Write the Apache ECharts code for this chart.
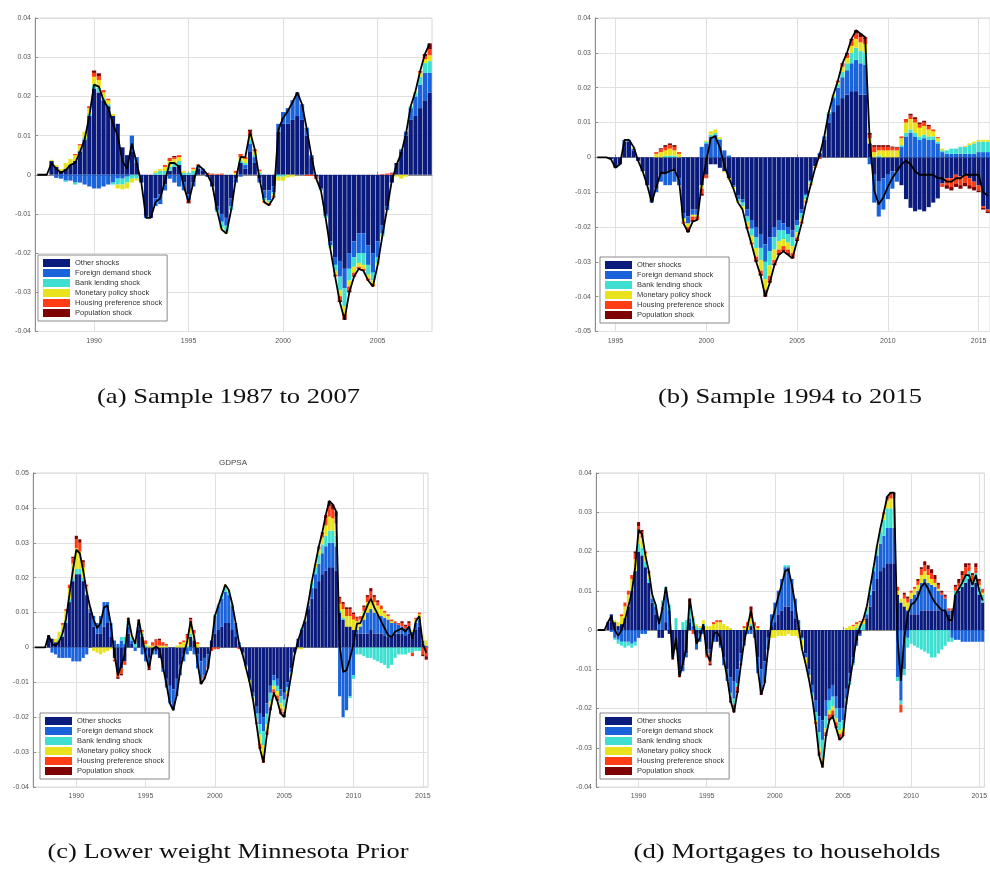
<!DOCTYPE html>
<html>
<head>
<meta charset="utf-8">
<script src="https://cdn.jsdelivr.net/npm/echarts@6/dist/echarts.min.js"></script>
<style>
  html, body { margin: 0; padding: 0; background: #ffffff; }
  #chart { width: 990px; height: 871px; }
</style>
</head>
<body>
<div id="chart"></div>
<script>
// Historical decomposition of the forecast error, quarterly contributions
// of each structural shock (values in thousandths, i.e. 12 = 0.012).

const SHOCK_NAMES = ['Other shocks', 'Foreign demand shock', 'Bank lending shock',
  'Monetary policy shock', 'Housing preference shock', 'Population shock'];
const SHOCK_COLORS = ['#0b1b7d', '#1a63db', '#3fe0d2', '#e8e31c', '#ff3c14', '#7e0202'];
const X_TICK_YEARS = [1990, 1995, 2000, 2005, 2010, 2015];

// ---- (a) sample 1987Q1 - 2007Q4 ----
const aOther = [0,0,0,3.5,2,1,1.5,2.5,3.5,6, 9,15,22,21,19,17.5,15,13,7,5, 6,3,-2,-10.5,-11,-6,-5,-2.5,1,2, 2.5,-2,-5,-2,1.5,1,-0.5,-3,-8,-10, -11,-6,-1,3,1.5,6,3,-1,-4,-4, -3,11,13,13,14,15,14,10,4.5,-0.5, -3.5,-10,-17,-21,-22,-24,-20,-17,-15,-15, -18,-20,-17,-13,-8,-2,3,6,10,14, 15,17,19,21];
const aForeign = [0,0,0,0,-0.8,-1,-1.5,-1.5,-2,-2, -2.5,-3,-3.5,-3.5,-3,-2.5,-2,-1,-1,-0.5, 4,1.5,0,-0.5,0,-2,-2.5,-1.5,-1,-2, -3,-2,-1.5,-1,0.5,0.5,0,0,-1,-2, -2,-2,-1,-0.5,1,2,1.5,-1,-2,-2.5, -1.5,2,3,4,5,6,4,2,0.5,0, -0.3,-0.5,-1,-2,-4,-5,-4,-4,-5,-5, -5,-5,-4,-2,-1,0,0,0.5,1,3, 5,6,7,5];
const aBank = [0,0,0,0,0,0,-0.3,0,-0.5,0, 0.5,0.5,1,1.2,0.5,0.5,-0.5,-1.5,-1.5,-1.5, -1,-1,0,0,0,0.5,1,1,1,1, 1,0.5,0.5,1,0.3,0,0,0,-0.5,-1.5, -1.5,-1,0,0.5,0.5,1,0.5,0.5,-0.5,-0.5, -0.5,-0.5,-0.5,0,0,0,0,0,0,0, -0.2,-0.5,-0.5,-1.5,-3.5,-4.5,-3,-2.5,-2.5,-3, -2.5,-2,-1.5,-0.5,0,0,0,0,0,0.5, 1,2,2.5,3];
const aMonetary = [0,0,0,0.3,0.5,0.5,1.5,1.5,1.5,1.5, 1.5,1.5,2,2,1.5,1,0.5,-1,-1.2,-1.5, -1,-0.5,0,0,0,0.5,0.5,1,1.5,1, 1,0.5,0,0.5,0,0,0,0,0,-0.5, -0.5,0,0.5,1,1,1,1,0.5,-0.3,-0.3, -0.5,-1,-1,-0.7,-0.5,0,0,0,0,0, 0,0,-0.3,-1,-1.5,-2,-1.5,-1.5,-1,-1, -1,-1,-0.5,-0.3,0,0,-0.5,-1,-0.5,0, 0.3,1,1,1.5];
const aHousing = [0,0,0,0,0,0,0,0,0.3,0.3, 0,0.5,1,1,0.6,0.4,0,0,0,0, 0,0,0,0,0,0,0,0.5,0.8,0.5, 0.5,0,-0.5,0.3,0.3,0,0.3,0.3,0.2,0.3, 0,0,0.5,0.8,0.5,1,0.5,0.3,-0.3,-0.5, -0.3,0,0,0,0,0,0,-0.3,-0.3,-0.3, 0,0,0,-0.5,-1,-1,-1,-0.7,-0.5,-0.5, -0.5,-0.5,0,0.2,0.3,0.3,0,0,0,0, 0,0.5,0.8,1.5];
const aPopulation = [0,0,0,0,0,0,0,0,0,0, 0,0,0.6,0.7,0,0,0,0,0,0, 0,0,0,0,0,0,0,0,0,0.3, 0,0,-0.3,0,0,0,0.2,0,0,0, 0,0,0,0,0,0.5,0,0,0,0, 0,0,0,0,0,0,0,0,0,-0.2, 0,0,0,0,-0.5,-0.5,-0.5,-0.3,0,0, 0,0,0,0,0,0.2,0,0,0,0, 0,0,0.5,1.5];
const aObserved = [0,0,0,3,1.5,0.5,1.2,2.5,3,5.8, 9,15,23,22.5,19,17,13,10,3.5,1.5, 8,3,-2,-11,-11,-7,-6,-1.5,3,3, 2,-3,-7,-2,2.5,1.5,0,-2.5,-9,-14, -15,-9,-1,4.5,4.5,11,6.5,-1,-7,-7.8, -5.8,11.5,14.5,16.3,18.5,21,18,11.7,4.7,-1, -4,-11,-19,-26,-32.5,-37,-30,-26,-24,-24.5, -27,-28.5,-23,-15.6,-8.7,-1.5,2.5,5.5,10.5,17.5, 21.3,26.5,30.8,33.5];

// ---- (b) sample 1994Q1 - 2015Q3 ----
const bOther = [0,0,0,-0.5,-3,-2,4.5,4.5,2,-1, -4,-8,-12.5,-9,-5,-5,-4,-4,-6,-16, -17,-15,-15,-8,-5,-2,-2,-3,-4,-6, -8,-11,-12,-15,-18,-20,-22,-25,-23,-20, -18,-19,-20,-21,-18,-15,-10.5,-6.5,-2.5,1, 5,10,13,15,17,18,19,19,18,18, 4,-5,-7,-6,-5,-4,-4,-8,-12,-14.5, -15.5,-15,-15.5,-14.3,-13,-11.8,-7.5,-6,-6,-5, -5.5,-5,-6,-7,-8,-14,-15];
const bForeign = [0,0,0,0,0,0,0.5,0.5,0.5,0, 0,0,-0.5,-1,-2,-3,-4,-3,-2,-1.5, -2,-1.5,-1.5,3,4,6,6.5,5,2,0.5, -0.5,-1,-1,-2,-2.5,-3,-4,-5,-4,-3, -3,-2,-2,-2,-1.5,-1,-0.5,-0.3,0,0.3, 1,2.5,4,5,6,7,8,9,9,8.5, -2,-8,-10,-9,-7,-5,-3,3,6,7, 6,5,5.5,5,5,4,1.5,1,1,1, 1,1,1,1,1.5,1.5,1.5];
const bBank = [0,0,0,0,0,0,0,0,0,0, 0,0,0,0,0,0.5,0.5,0.5,0,0, 0,0,0,0,0.5,0.5,0.5,0.3,0,0, 0,-0.5,-1,-1.5,-2,-3,-3.5,-5,-4,-3.5, -3,-2.5,-2.5,-2.5,-2,-1.5,-1,-0.5,0,0, 0,0.5,0.5,1,1.5,2,3,3.5,3.5,3.5, 0,0,0.5,0,0,0,0,0.5,1,1, 1,1,1,1,1,0.5,0.5,1,1.5,1.5, 2,2,2.5,3,3,3,3];
const bMonetary = [0,0,0,0,0,0,0,0,0.5,0, 0,0,0,1,1.5,1.5,2,1.5,1,-1, -1,-0.5,-0.5,-1,0.3,1,1,0.5,-0.3,-0.5, -0.5,-0.5,-1,-1.5,-2,-2.5,-3,-3,-3,-3, -2.5,-2,-2,-2,-1.5,-1,-0.7,-0.5,-0.3,0, 0,0,0.5,0.5,1.5,1.5,2,2.5,2.5,2.5, 1.5,1.5,1.5,2,2,2,2,2,3,3, 3,2.5,2.5,2,1.5,1,0.5,0,0,0, 0,0.3,0.5,0.5,0.5,0.5,0.5];
const bHousing = [0,0,0,0,0,0,0,0,0,0, 0,0,0,0.5,0.8,1,1,1,0.5,-0.5, -1,-1,-1,-1.5,-1,0,0,0,0,0, 0,0,0,-0.5,-0.5,-1,-1,-1.5,-1.5,-1, -1,-1,-1,-1,-0.7,-0.5,-0.3,-0.2,-0.2,-0.5, 0,0,0,0.3,0.7,1,1.5,1.5,1.5,1.5, 1,1.5,1,1,1,0.8,0.8,0.5,1,1, 1,1,1,1,0.5,0.3,-1,-2,-2.5,-2.5, -2.5,-2.3,-2,-1.5,-1.5,-0.5,-0.5];
const bPopulation = [0,0,0,0,0,0,0,0,0,0, 0,0,0,0,0.3,0.5,0.5,0.5,0,0, -0.5,-0.5,0,-0.5,0,0,0,0,0,0, 0,0,0,0,0,-0.5,-0.5,-0.5,-0.5,-0.5, -0.5,-0.5,-0.5,-0.5,-0.3,0,0,0,0,0, 0,0,0,0.2,0.3,0.5,0.5,1,1,0.5, 0.5,0.5,0.5,0.5,0.5,0.3,0.2,0,0,0.5, 0.5,0.5,0.5,0.3,0,0,0,-1,-1,-1, -1,-1,-1,-1,-0.5,-0.5,-0.5];
const bObserved = [0,0,0,-0.5,-3,-2,5,5,3,-1, -4,-8,-13,-8.5,-4.4,-4.5,-4,-3.5,-6.5,-19, -21.5,-18.5,-18,-8,-1.2,5.5,6,2.8,-2.3,-6, -9,-13,-15,-20.5,-25,-30,-34,-40,-36,-31, -28,-27,-28,-29,-24,-19,-13,-8,-3,0.8, 6,13,18,22,27,30,34,36.5,35.5,34.5, 5,-9.5,-13.5,-11.5,-8.5,-5.9,-4,-2,-1,-2, -4,-5,-5,-5,-5,-6,-6,-7,-7,-6, -6,-5,-5,-5,-5,-10,-11];

// ---- (c) lower weight Minnesota prior, 1987Q1 - 2015Q2 ----
const cOther = [0,0,0,0,3.5,2.5,1.5,2,3,7, 13,19,21,21,19,15,10,6,4,4, 6,7,3,-3,-7,-6,-4,4,1,0, 5,3,-1,-3,-1,-1,-3,-6,-9,-11, -12,-9,-5,-2,0,3,2,-2,-4,-3, -2,2,4,5,6,7,7,5,3,0.5, -1.5,-5,-9,-13,-17,-19,-20,-16,-11,-8, -9,-12,-13,-10,-6,-1.5,2.5,5,7.5,11, 14,17,19,21,22,23,23,22,10,8, 6,6,5,4,4,4,4,5,4,4, 4,3.5,3,3,4,4,4,3.5,4,3, 5,6,1,0];
const cForeign = [0,0,0,0,0,-1.5,-2,-3,-3,-3, -3,-4,-4,-4,-3,-2,1,3,3,5, 7,6,4,2,1,2,1,2,1,-1, 1,-2,-3,-2,-1,-1,0,-1,-2.5,-5, -6,-5,-3,-2,-2,-1,-2,-4,-5,-5, -3.5,0,5,7,8,9,8,7,4,1, -0.3,-0.5,-0.5,-1,-2,-3,-4,-3,-2,-1.5, -2,-2,-2,-1.5,-1,0,0,0,0,1, 3,4,5,6,7,7,7,7,-14,-20, -18,-14,-8,1,2,4,6,6,6,5.5, 5,5,5,4,3,2.5,2,2,2,1.5, 2,2,1,0.5];
const cBank = [0,0,0,0,0,0,0,0.5,0.5,0.5, 1,1,1.5,1.5,1,0.5,0,0,0,0, 0,0,0,0,0,1,2,1.5,1,1.5, 1,1,0.5,0,0,0,0,0,0,0, 0,0,0,0,0.5,1,0.5,0,0,0, 0,0,0.5,0.5,1,1,1,0.5,0,0, 0,0,0,-0.5,-1.5,-3,-4,-3,-2.5,-1.5, -1.5,-2,-2,-1,-0.5,0,0,0.5,0.5,1, 1.5,2,2.5,2.5,3,3.5,3.5,3,0.5,0.5, 0,-0.5,-1,-2,-2,-2.5,-3,-3,-3.5,-4, -4.5,-5,-6,-5,-3,-2,-2,-2,-1.5,-1.5, -1,-1,0,0];
const cMonetary = [0,0,0,0,0,0,1,2,3,3, 3,4,6,5,3,2,0.5,-1,-1.5,-2, -1.5,-1,-0.5,-0.5,0,0,0,0.5,0.5,0.5, 0.5,0.5,0.5,0.5,0.5,0.5,0.5,0.5,0.5,0, 0,0.5,1,1.5,2,2.5,1.5,1,0,0, 0,0,0,0,0,1,0.5,0,0,0, -0.3,-0.5,-0.5,-0.5,-1,-2.5,-3,-2,-1.5,-1, -1.3,-1.5,-1.5,-1,-0.5,-0.5,-0.5,-0.5,0,0, 0.5,1,1.5,2,3,4,3.5,3.5,2,2.5, 3,3,3,2.5,2,2.5,3,3,3,2.5, 2,1.5,1,0.5,0,0,0,0,0,0.5, 1,1.5,1.5,1.5];
const cHousing = [0,0,0,0,0,0,0,0,0.5,0.5, 1,1.5,2.5,2.5,1.5,0.5,0,0,0,0, 0,0,0,-0.5,-1.5,-1.5,-1,0.5,0,0, 0.5,0.5,1,-1,1,1.5,1.5,1,0.5,0, 0,0,0.5,0.5,1,1.5,1,0.5,-1,-1, -0.5,-1,-0.5,-0.5,0,0,0,0,0,-0.5, 0,0,0,0,-0.5,-1,-1.5,-0.7,-0.7,-0.7, -1,-1,-1,-0.5,0,0,0,0,0,0, 0,0,1,1,2,3,2.5,2,1.5,1.5, 2,2,1.5,1,1,1,1.5,2,1.5,1, 1,0.5,0.5,0.5,0.5,0.5,1,0.5,1,-1, 0.5,0.5,-2,-2.5];
const cPopulation = [0,0,0,0,0,0,0,0,0,0, 0,0.5,1,1,0.5,0,0,0,0,0, 0,0,0,0,-0.5,-0.5,0,0,0,0, 0,0,0,-0.5,0,0.3,0.5,0,0,0, 0,0,0,0,0.3,0.5,0,0,-0.5,0, 0,0,0,0,0,0,0,0,0,0, 0,0,0,0,0,-0.5,-0.5,-0.3,-0.3,-0.3, -0.5,-0.5,-0.5,0,0,0,0,0,0,0, 0,0,0,0.5,1,1.5,1.5,1.5,0.5,0.5, 0.5,0.5,0.5,0.3,0,0.5,0.5,1,0.5,0.5, 0,0,0,0,0,0,0.5,0.5,0.5,0, 0,0,-0.5,-1];
const cObserved = [0,0,0,0,3.5,1,0.5,1.5,4,8, 15,22,28,27,22,16,11.5,8,5.5,7, 11.5,12,6.5,-2,-8,-5,-2,8.5,3.5,1, 8,3,-2,-6,-0.5,0.3,-0.5,-5.5,-10.5,-16, -18,-13.5,-6.5,-2,1.8,7.5,3,-4.5,-10.5,-9, -6,1,9,12,15,18,16.5,12.5,7,1, -2.1,-6,-10,-15,-22,-29,-33,-25,-18,-13, -15.3,-19,-20,-14,-8,-2,2,5,8,13, 19,24,29,33,38,42,41,39,0.5,-7, -6.5,-3,1,6.8,7,9.5,12,14,11.5,9.5, 7.5,5.5,3.5,3,4.5,5,5.5,4.5,6,2.5, 7.5,9,1,-1.5];

// ---- (d) mortgages to households, 1987Q1 - 2015Q2 ----
const dOther = [0,0,0,2,4,2,1,1.5,3,6, 10,15,20,19,16,12,7,4,-2,-2, 2,-1,-6,-4,-10,-9,-6,2,0,-3, -1,1,-5,-5,-2,-3,-4,-7,-10,-12, -13,-10,-6,-3,0,1,0,-7,-10,-8, -2,1,2,4,5,6,6,5,3,0.5, -2,-6,-10,-14,-18,-22,-23,-18,-15,-14, -17,-20,-20,-15,-11,-7,-3,-1,0,3, 6,10,13,15,16,17,17,17,9,7, 6,5,4,4,4,5,5,5,5,5, 5,5,5,4,5,9,10,11,12,13, 11,12,9,7];
const dForeign = [0,0,0,0,-0.5,-2,-2.5,-3,-3,-3, -3.5,-3,-2,-1,-1,0,1,2,3,6, 7,5,-1,-1,-1.5,-1.5,-1,1,1,-2, -2,-1,-1,-1,-1,0,-0.5,-2,-3,-4, -4.5,-3.5,-2,-1,-1,-1,-2,-4,-5,-5, -3,3,5,6,8,10,10,8,5,2, 0,-1,-1.5,-2,-3,-4,-5,-4,-3,-3, -3,-3.5,-3,-2.5,-2,-1.5,-1,-0.5,0,1, 3,5,6,7,8,9,9,9,-12,-18, -10,-2,4,5,6,7,8,7,6.5,6, 5,4,3,1,-2,-2.5,-2.5,-3,-3,-3, -3,-3,-3,-3];
const dBank = [0,0,0,0,0,-0.5,-1,-1,-1.5,-1, -1,-1,2,2,1.5,1,0.5,0.5,0.5,1.5, 2,1.5,0,3,0,2,2.5,3,2,1, 0.5,0.5,0,0,0,0,0,0,0,-1, -1.5,-1,-0.5,0,0,0.5,0,0,0,0, 0,0,0,0,0,0.5,0.5,0,0,0, -0.5,0,0,-1,-2,-4,-4.5,-3,-2.5,-2.5, -2.5,-2,-2,-1.5,-1,-0.5,0.5,1,1.5,1.5, 1.5,1,2,3,4,5,5,5,-1,-1, -1.5,-2.5,-3.5,-4,-4.5,-5,-5.5,-6,-7,-7, -6,-5,-4,-3,-1,1,1,1.5,2,2, 1.5,2.5,2,2];
const dMonetary = [0,0,0,0,0,0.5,1,2,3,3, 3,3,2.5,2.5,2,1.5,0.5,0,0,0, 0,0,0,0,0,0,0,0,0.5,0.5, 0.5,1,1,1,1.5,2,2,1.5,1,0.5, 0,0,0,0.5,1,1.5,1,0.5,0,0, 0,-2,-2,-1.5,-1.5,-1.5,-1,-1.5,-1.5,-2, -2.5,-1.5,-1,-0.5,-0.5,-1,-1.5,-1,-1,-1, -1,-1,-1,0.5,1,1,1,1,1,0.5, 0.5,0,0.5,1,1.5,2,2.5,2.5,1,1, 2,2,1.5,1.5,1.5,2,2,2,1.5,1, 0.5,0,0,0,0,0,0,0,0,0, 0,0,0.5,0.5];
const dHousing = [0,0,0,0,0,0,0,0.5,1,1, 1,1.5,2,1.5,0.5,0.5,0,0,0,0, 0,0,-0.5,0,-0.5,0,0,1,-1,0, 0,0,-1,-2.5,0.5,0.5,0.5,0,0,-1, -1.5,-1,-0.5,0.5,1,2,1,0.5,-1,-0.5, 0,0,0,0,0,0,0,0,0,0, 0,0,0,0,-0.5,-0.7,-0.7,-0.7,-1,-1, -1,-1,-0.7,0,0,0.3,0.5,0.3,0.3,0, 0,0,0,0,0.5,0.5,1,1,1,-2, 1,1,0.5,0.5,1,1.5,1.5,1.5,1.5,1, 1,0.5,0.5,0.5,0.5,1,1,1.5,2,1.5, 1.5,1.5,1,1];
const dPopulation = [0,0,0,0,0,0,0,0,0,0, 0,0.5,1,0.5,0,0,0,0,0,0, 0,0,0,0,0,0,0,1,0,0, 0,0,0,-0.5,0,0,0,0,0,-0.5, -0.5,-0.5,0,0,0,1,0,0,-0.5,0, 0,0,0,0,0,0,0,0,0,0, 0,0,0,0,0,-0.3,-0.3,-0.3,-0.5,-0.5, -0.5,-0.5,-0.3,0,0,0,0,0,0,0, 0,0,0,0,0,0.5,0.5,0.5,0,0, 0.5,0.5,0,0,0.5,0.5,1,1,1,1, 0.5,0.5,0.5,0,0,0.5,1,1,1,0.5, 0.5,1,0.5,0];
const dObserved = [0,0,0,2,3.5,0,-1.5,0,2.5,6, 9.5,16,25.5,24.5,19,15,9,6.5,1.5,5.5, 11,5.5,-7.5,-2,-12,-8.5,-4.5,8,2.5,-3.5, -2,1.5,-6,-8,-1,-0.5,-2,-7.5,-12,-18, -21,-16,-9,-3,1,5,0,-10,-16.5,-13.5, -5,2,5,8.5,11.5,15,15.5,11.5,6.5,0.5, -5,-8.5,-12.5,-17.5,-24,-32,-35,-27,-23,-22, -25,-28,-27,-18.5,-13,-7.7,-2,0.8,2.8,6, 11,16,21.5,26,30,34,35,35,-2,-13, -2,4,6.5,7,8.5,11,12,10.5,8.5,7, 6,5,5,2.5,2.5,9,10.5,12,14,14, 11.5,14,10,7.5];

// ---- panel layout ----
const PANELS = [
  { start: 1987, series: [aOther, aForeign, aBank, aMonetary, aHousing, aPopulation], observed: aObserved,
    yMin: -0.04, yMax: 0.04, grid: { left: 35, top: 18, width: 397, height: 313.5 },
    legend: { left: 38, top: 255 }, caption: '(a) Sample 1987 to 2007', capX: 228.5, capY: 397, capW: 263 },
  { start: 1994, series: [bOther, bForeign, bBank, bMonetary, bHousing, bPopulation], observed: bObserved,
    yMin: -0.05, yMax: 0.04, grid: { left: 595, top: 18, width: 398, height: 313.5 },
    legend: { left: 600, top: 257 }, caption: '(b) Sample 1994 to 2015', capX: 790, capY: 397, capW: 264 },
  { start: 1987, series: [cOther, cForeign, cBank, cMonetary, cHousing, cPopulation], observed: cObserved,
    yMin: -0.04, yMax: 0.05, grid: { left: 33, top: 473, width: 395, height: 314 },
    legend: { left: 40, top: 713 }, caption: '(c) Lower weight Minnesota Prior', capX: 228, capY: 852, capW: 361,
    title: 'GDPSA', titleX: 233, titleY: 463 },
  { start: 1987, series: [dOther, dForeign, dBank, dMonetary, dHousing, dPopulation], observed: dObserved,
    yMin: -0.04, yMax: 0.04, grid: { left: 596, top: 473, width: 395, height: 314 },
    legend: { left: 600, top: 713 }, caption: '(d) Mortgages to households', capX: 787, capY: 852, capW: 307 }
];

function quarterLabels(startYear, count) {
  const out = [];
  for (let k = 0; k < count; k++) out.push((startYear + Math.floor(k / 4)) + 'Q' + (k % 4 + 1));
  return out;
}
const isYearTick = (idx, label) =>
  label.endsWith('Q1') && X_TICK_YEARS.includes(+label.slice(0, 4));

const AXIS_GREY = '#8c8c8c';
const GRID_GREY = '#e0e0e0';
const SANS = '"Liberation Sans", Arial, sans-serif';
const CAPTION_FONT_SIZE = 21;
const CAPTION_FAMILY = '"Liberation Serif", "Times New Roman", serif';

const measureCtx = document.createElement('canvas').getContext('2d');

const grids = [], xAxes = [], yAxes = [], series = [], legends = [], graphics = [];

PANELS.forEach((p, g) => {
  const cats = quarterLabels(p.start, p.observed.length);
  grids.push(Object.assign({ show: true, borderColor: '#d6d6d6', borderWidth: 1, containLabel: false }, p.grid));

  xAxes.push({
    type: 'category', gridIndex: g, data: cats, boundaryGap: true,
    axisLine: { show: true, lineStyle: { color: AXIS_GREY, width: 1 } },
    axisTick: { show: true, inside: true, length: 3, alignWithLabel: true, interval: isYearTick,
      lineStyle: { color: AXIS_GREY } },
    axisLabel: { interval: isYearTick, formatter: v => v.slice(0, 4), fontSize: 7, color: '#555',
      margin: 6, fontFamily: SANS },
    splitLine: { show: true, interval: isYearTick, alignWithLabel: true, lineStyle: { color: GRID_GREY, width: 1 } }
  });

  yAxes.push({
    type: 'value', gridIndex: g, min: p.yMin, max: p.yMax, interval: 0.01,
    axisLine: { show: true, lineStyle: { color: AXIS_GREY, width: 1 } },
    axisTick: { show: true, inside: true, length: 3, lineStyle: { color: AXIS_GREY } },
    axisLabel: { fontSize: 7, color: '#555', margin: 4, fontFamily: SANS },
    splitLine: { show: true, lineStyle: { color: GRID_GREY, width: 1 } }
  });

  p.series.forEach((arr, k) => {
    series.push({
      type: 'bar', name: SHOCK_NAMES[k], xAxisIndex: g, yAxisIndex: g, stack: 'decomp' + g,
      data: arr.map(v => v / 1000), barCategoryGap: '10%',
      itemStyle: { color: SHOCK_COLORS[k] }, emphasis: { disabled: true }, silent: true
    });
  });

  series.push({
    type: 'line', name: 'Observed', xAxisIndex: g, yAxisIndex: g,
    data: p.observed.map(v => v / 1000), symbol: 'none', z: 4,
    lineStyle: { color: '#000000', width: 1.8 }, emphasis: { disabled: true }, silent: true
  });

  legends.push({
    orient: 'vertical', left: p.legend.left, top: p.legend.top, data: SHOCK_NAMES,
    itemWidth: 27, itemHeight: 8, itemGap: 2, padding: [4, 5, 4, 5], icon: 'rect',
    backgroundColor: '#ffffff', borderColor: '#8a8a8a', borderWidth: 1, borderRadius: 0,
    selectedMode: false, textStyle: { fontSize: 7.5, color: '#333', fontFamily: SANS }
  });

  const capFont = CAPTION_FONT_SIZE + 'px ' + CAPTION_FAMILY;
  measureCtx.font = capFont;
  const sx = p.capW / measureCtx.measureText(p.caption).width;
  graphics.push({
    type: 'text', x: p.capX, y: p.capY, scaleX: sx, silent: true,
    style: { text: p.caption, fontSize: CAPTION_FONT_SIZE, fontFamily: CAPTION_FAMILY, fill: '#111',
      align: 'center', verticalAlign: 'middle', textAlign: 'center', textVerticalAlign: 'middle' }
  });

  if (p.title) {
    graphics.push({
      type: 'text', x: p.titleX, y: p.titleY, silent: true,
      style: { text: p.title, fontSize: 8, fontFamily: SANS, fill: '#444',
        align: 'center', verticalAlign: 'middle', textAlign: 'center', textVerticalAlign: 'middle' }
    });
  }
});

const chart = echarts.init(document.getElementById('chart'), null, { renderer: 'canvas' });
chart.setOption({
  animation: false,
  backgroundColor: '#ffffff',
  textStyle: { fontFamily: SANS },
  grid: grids,
  xAxis: xAxes,
  yAxis: yAxes,
  legend: legends,
  series: series,
  graphic: graphics
});
</script>
</body>
</html>
